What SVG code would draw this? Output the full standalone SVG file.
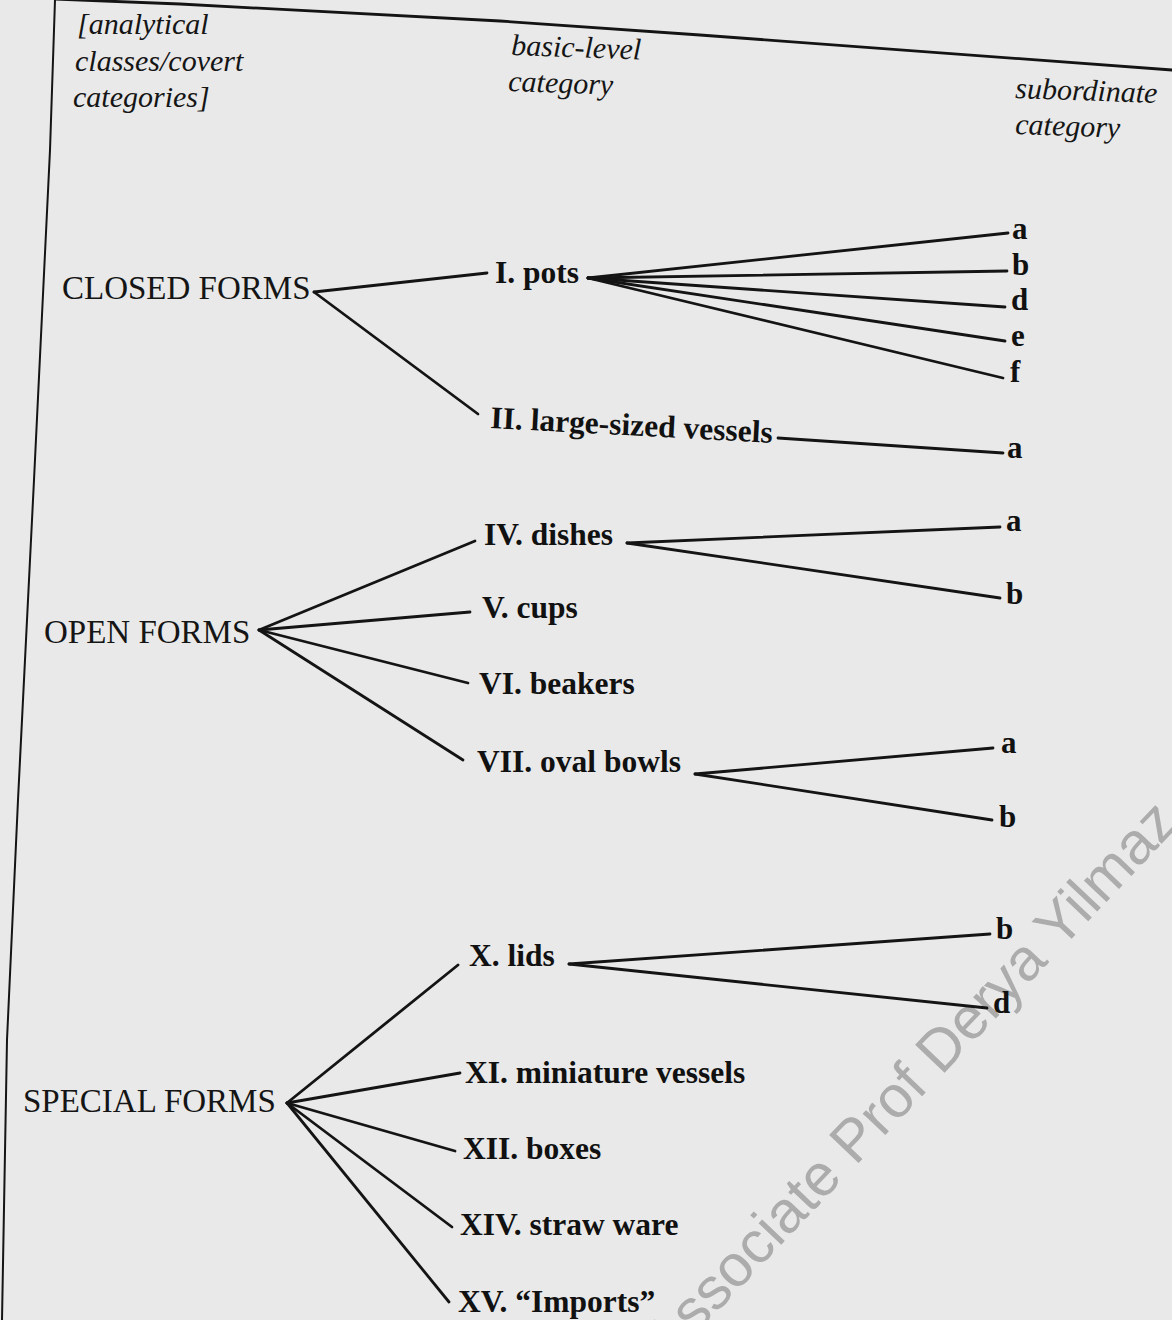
<svg xmlns="http://www.w3.org/2000/svg" width="1172" height="1320" viewBox="0 0 1172 1320">
<style>
.hdr{font-family:"Liberation Serif","Times New Roman",serif;font-style:italic;font-size:30px;fill:#151515}
.cls{font-family:"Liberation Serif","Times New Roman",serif;font-size:33px;fill:#151515}
.bl{font-family:"Liberation Serif","Times New Roman",serif;font-weight:bold;font-size:31.5px;fill:#111}
.sub{font-family:"Liberation Serif","Times New Roman",serif;font-weight:bold;font-size:31px;fill:#111}
.ln{stroke:#141414;stroke-width:2.8;fill:none;stroke-linecap:round}
.wm{font-family:"Liberation Sans",Arial,sans-serif;font-size:59px;fill:#acacac}
</style>
<rect x="0" y="0" width="1172" height="1320" fill="#e9e9e9"/>
<g id="frame">
<polyline class="ln" points="55,-1 180,4 500,21 700,35 1172,70"/>
<polyline class="ln" points="55,0 50,150 34,480 18,800 7,1040 2,1320" style="stroke-width:2"/>
</g>
<g id="watermark">
<text class="wm" x="668" y="1364" transform="rotate(-46.5 668 1364)">Associate Prof Derya Yilmaz</text>
</g>
<g id="headers">
<text class="hdr" x="77" y="34">[analytical</text>
<text class="hdr" x="75" y="71">classes/covert</text>
<text class="hdr" x="73" y="107">categories]</text>
<text class="hdr" x="511" y="55" transform="rotate(2 511 55)">basic-level</text>
<text class="hdr" x="508" y="91" transform="rotate(2 508 91)">category</text>
<text class="hdr" x="1015" y="98" transform="rotate(2 1015 98)">subordinate</text>
<text class="hdr" x="1015" y="134" transform="rotate(2 1015 134)">category</text>
</g>
<g id="connectors">
<line class="ln" x1="314" y1="292" x2="487" y2="273"/>
<line class="ln" x1="314" y1="292" x2="478" y2="414"/>
<line class="ln" x1="588" y1="278" x2="1008" y2="233"/>
<line class="ln" x1="588" y1="278" x2="1007" y2="271"/>
<line class="ln" x1="588" y1="278" x2="1005" y2="307"/>
<line class="ln" x1="588" y1="278" x2="1005" y2="341"/>
<line class="ln" x1="588" y1="278" x2="1003" y2="378"/>
<line class="ln" x1="778" y1="438" x2="1003" y2="453"/>
<line class="ln" x1="259" y1="630" x2="475" y2="541"/>
<line class="ln" x1="259" y1="630" x2="470" y2="612"/>
<line class="ln" x1="259" y1="630" x2="468" y2="683"/>
<line class="ln" x1="259" y1="630" x2="463" y2="760"/>
<line class="ln" x1="627" y1="543" x2="1000" y2="527"/>
<line class="ln" x1="627" y1="543" x2="1000" y2="598"/>
<line class="ln" x1="695" y1="774" x2="993" y2="748"/>
<line class="ln" x1="695" y1="774" x2="992" y2="820"/>
<line class="ln" x1="287" y1="1103" x2="458" y2="965"/>
<line class="ln" x1="287" y1="1103" x2="460" y2="1073"/>
<line class="ln" x1="287" y1="1103" x2="455" y2="1151"/>
<line class="ln" x1="287" y1="1103" x2="452" y2="1227"/>
<line class="ln" x1="287" y1="1103" x2="449" y2="1302"/>
<line class="ln" x1="569" y1="964" x2="990" y2="934"/>
<line class="ln" x1="569" y1="964" x2="987" y2="1008"/>
</g>
<g id="closed-forms"><text class="cls" x="62" y="299">CLOSED FORMS</text></g>
<g id="open-forms"><text class="cls" x="44" y="643">OPEN FORMS</text></g>
<g id="special-forms"><text class="cls" x="23" y="1112">SPECIAL FORMS</text></g>
<g id="pots"><text class="bl" x="495" y="283">I. pots</text></g>
<g id="large-vessels"><text class="bl" x="490" y="428" transform="rotate(3 490 428)">II. large-sized vessels</text></g>
<g id="dishes"><text class="bl" x="484" y="545">IV. dishes</text></g>
<g id="cups"><text class="bl" x="482" y="618">V. cups</text></g>
<g id="beakers"><text class="bl" x="479" y="694">VI. beakers</text></g>
<g id="oval-bowls"><text class="bl" x="477" y="772">VII. oval bowls</text></g>
<g id="lids"><text class="bl" x="469" y="966">X. lids</text></g>
<g id="miniature"><text class="bl" x="465" y="1083">XI. miniature vessels</text></g>
<g id="boxes"><text class="bl" x="463" y="1159">XII. boxes</text></g>
<g id="straw"><text class="bl" x="460" y="1235">XIV. straw ware</text></g>
<g id="imports"><text class="bl" x="458" y="1312">XV. “Imports”</text></g>
<g id="pots-a"><text class="sub" x="1012" y="239">a</text></g>
<g id="pots-b"><text class="sub" x="1012" y="275">b</text></g>
<g id="pots-d"><text class="sub" x="1011" y="310">d</text></g>
<g id="pots-e"><text class="sub" x="1011" y="346">e</text></g>
<g id="pots-f"><text class="sub" x="1010" y="382">f</text></g>
<g id="vessels-a"><text class="sub" x="1007" y="458">a</text></g>
<g id="dishes-a"><text class="sub" x="1006" y="531">a</text></g>
<g id="dishes-b"><text class="sub" x="1006" y="604">b</text></g>
<g id="oval-a"><text class="sub" x="1001" y="753">a</text></g>
<g id="oval-b"><text class="sub" x="999" y="827">b</text></g>
<g id="lids-b"><text class="sub" x="996" y="939">b</text></g>
<g id="lids-d"><text class="sub" x="993" y="1013">d</text></g>
</svg>
